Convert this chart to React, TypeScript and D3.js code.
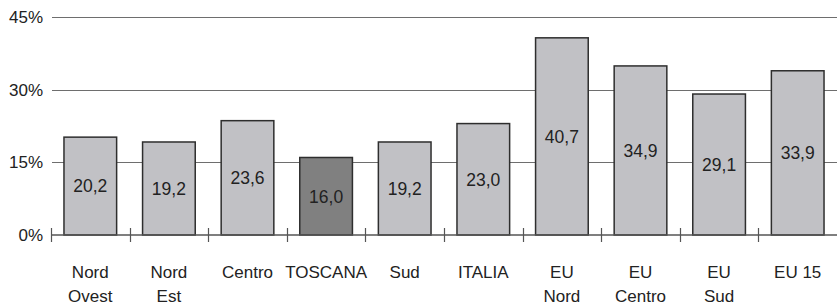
import React from "react";
import * as d3 from "d3";

// categories: each label is split into lines
const categories = [
  "Nord Ovest",
  "Nord Est",
  "Centro",
  "TOSCANA",
  "Sud",
  "ITALIA",
  "EU Nord",
  "EU Centro",
  "EU Sud",
  "EU 15",
];
const labelLines = [
  ["Nord", "Ovest"],
  ["Nord", "Est"],
  ["Centro"],
  ["TOSCANA"],
  ["Sud"],
  ["ITALIA"],
  ["EU", "Nord"],
  ["EU", "Centro"],
  ["EU", "Sud"],
  ["EU 15"],
];
const values = [20.2, 19.2, 23.6, 16.0, 19.2, 23.0, 40.7, 34.9, 29.1, 33.9];
const yTicks = [0, 15, 30, 45];
const highlight = "TOSCANA";

const width = 837;
const height = 305;
const margins = { left: 51, right: 0, top: 17, bottom: 70 };
const font = "'Liberation Sans', Arial, sans-serif";

const App = () => {
  const xScale = d3
    .scaleBand<string>()
    .domain(categories)
    .range([margins.left, width - margins.right])
    .paddingInner(0.33)
    .paddingOuter(0.165);
  const yScale = d3
    .scaleLinear()
    .domain([0, 45])
    .range([height - margins.bottom + 0.0, margins.top]);

  const step = xScale.step();
  const y0 = yScale(0);
  const boundaries = d3.range(categories.length).map(i => margins.left + i * step);
  const fmt = (v: number) => v.toFixed(1).replace(".", ",");

  return (
    <svg
      width={width}
      height={height}
      style={{ position: "absolute", left: 0, top: 0, background: "#fff" }}
      fontFamily={font}
    >
      {/* gridlines */}
      {yTicks.filter(t => t > 0).map(t => (
        <line
          key={t}
          x1={margins.left + 1}
          x2={width}
          y1={Math.round(yScale(t)) + 0.5}
          y2={Math.round(yScale(t)) + 0.5}
          stroke="#6e6e6e"
          strokeWidth={1}
        />
      ))}
      {/* y tick labels */}
      {yTicks.map(t => (
        <text
          key={t}
          x={43}
          y={yScale(t)}
          dy="0.36em"
          textAnchor="end"
          fontSize={17}
          fill="#222"
        >
          {t}%
        </text>
      ))}
      {/* bars */}
      {values.map((v, i) => {
        const c = categories[i];
        const x = xScale(c)!;
        const top = yScale(v);
        return (
          <g key={c}>
            <rect
              x={x}
              y={top}
              width={xScale.bandwidth()}
              height={y0 - top}
              fill={c === highlight ? "#808080" : "#c1c1c5"}
              stroke="#2e2e2e"
              strokeWidth={1.5}
            />
            <text
              x={x + xScale.bandwidth() / 2}
              y={(top + y0) / 2}
              dy="0.36em"
              textAnchor="middle"
              fontSize={17.5}
              fill="#222"
            >
              {fmt(v)}
            </text>
          </g>
        );
      })}
      {/* x axis */}
      <line x1={margins.left} x2={width} y1={y0} y2={y0} stroke="#555" strokeWidth={1.5} />
      {boundaries.map(b => (
        <line
          key={b}
          x1={Math.round(b) + 0.5}
          x2={Math.round(b) + 0.5}
          y1={y0 - 7}
          y2={y0 + 7}
          stroke="#555"
          strokeWidth={1.2}
        />
      ))}
      {/* category labels */}
      {labelLines.map((lines, i) => (
        <text
          key={categories[i]}
          x={xScale(categories[i])! + xScale.bandwidth() / 2}
          y={278}
          textAnchor="middle"
          fontSize={17}
          fill="#222"
        >
          {lines.map((l, j) => (
            <tspan key={j} x={xScale(categories[i])! + xScale.bandwidth() / 2} dy={j === 0 ? 0 : 24}>
              {l}
            </tspan>
          ))}
        </text>
      ))}
    </svg>
  );
};

export default App;
